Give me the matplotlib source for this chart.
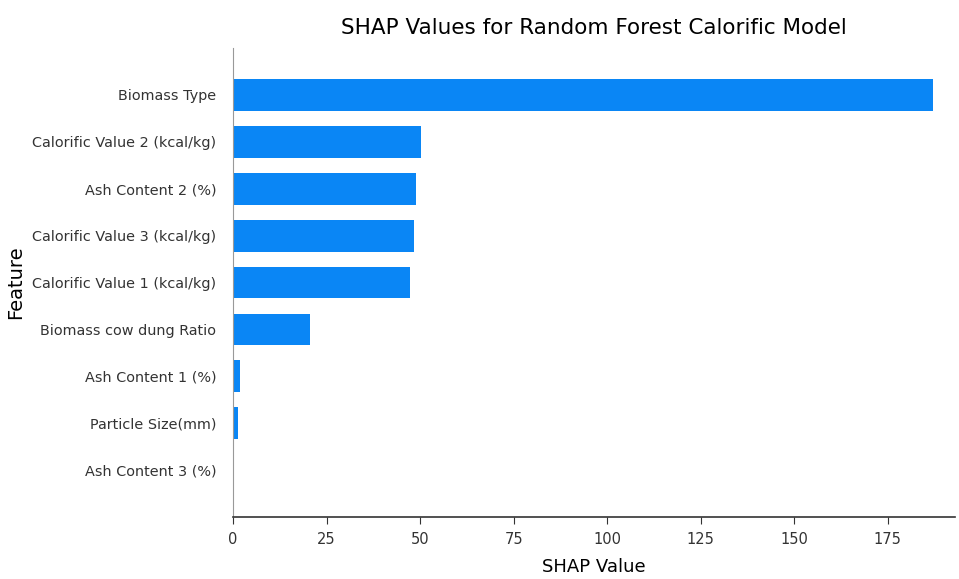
import matplotlib as mpl
import matplotlib.pyplot as plt
import numpy as np

features = ['Biomass Type', 'Calorific Value 2 (kcal/kg)', 'Ash Content 2 (%)',
            'Calorific Value 3 (kcal/kg)', 'Calorific Value 1 (kcal/kg)',
            'Biomass cow dung Ratio', 'Ash Content 1 (%)', 'Particle Size(mm)',
            'Ash Content 3 (%)']
shap_values = [187.0, 50.2, 48.9, 48.3, 47.3, 20.6, 1.9, 1.3, 0.0]
xticks = [0, 25, 50, 75, 100, 125, 150, 175]

mpl.rcParams['font.family'] = ['DejaVu Sans']

fig = plt.figure(figsize=(9.59, 5.79), dpi=100, facecolor='w')
ax = fig.add_axes([0.243, 0.107, 0.753, 0.810])

ypos = np.arange(len(features))[::-1]
ax.barh(ypos, shap_values, height=0.68, color='#0a86f5')

ax.set_yticks(ypos)
ax.set_yticklabels(features, fontsize=10.4, color='#333333')
ax.tick_params(axis='y', length=0, pad=12)
ax.tick_params(axis='x', labelsize=10.5, labelcolor='#333333', length=5,
               color='#333333', pad=6)
ax.set_xticks(xticks)
ax.set_xlim(0, 193)
ax.set_ylim(-1, 9)

for s in ['top', 'right']:
    ax.spines[s].set_visible(False)
ax.spines['left'].set_color('#999999')
ax.spines['bottom'].set_color('#333333')
ax.spines['bottom'].set_linewidth(1.2)

ax.set_xlabel('SHAP Value', fontsize=13, labelpad=8)
ax.set_ylabel('Feature', fontsize=14)
ax.yaxis.set_label_coords(-0.288, 0.5)
ax.set_title('SHAP Values for Random Forest Calorific Model', fontsize=15.5, pad=10)

fig.savefig('out.png', dpi=100, facecolor='w')
